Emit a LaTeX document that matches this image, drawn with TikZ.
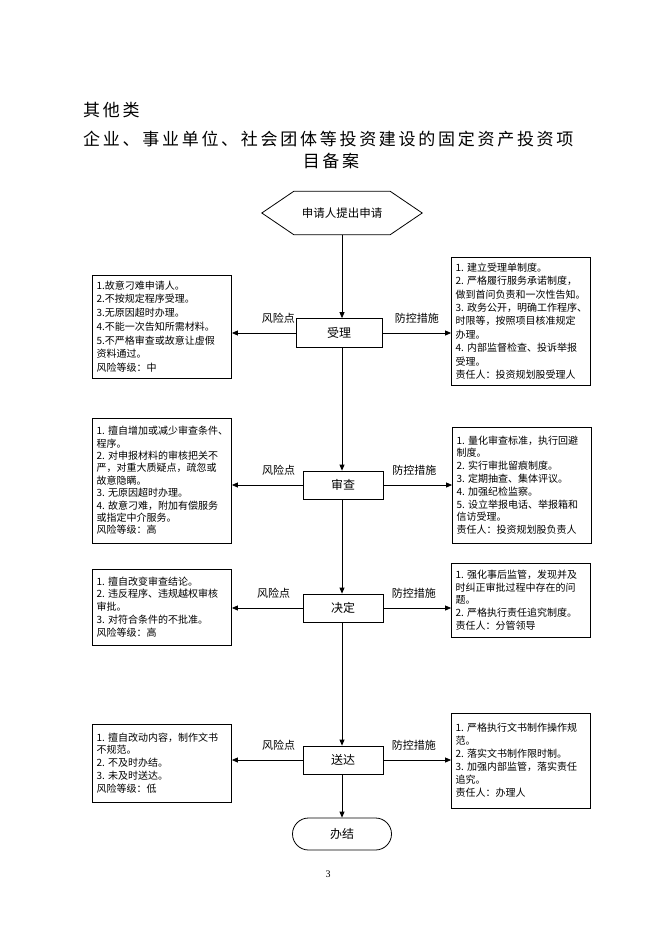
\documentclass[tikz,border=0pt]{standalone}
\usepackage{fontspec}
\setmainfont{Noto Sans CJK SC}
\newfontfamily\titlefont[LetterSpace=16]{Noto Sans CJK SC}
\newfontfamily\numfont{Liberation Serif}
\usetikzlibrary{arrows.meta}
\tikzset{
  proc/.style={draw, line width=0.8pt, minimum width=80pt, minimum height=28pt, inner sep=0pt, font=\fontsize{12}{14}\selectfont},
  info/.style={draw, line width=0.8pt, text width=131pt, inner xsep=4pt, inner ysep=0pt, align=left},
  lbl/.style={font=\fontsize{11}{13}\selectfont, inner sep=1pt},
  flow/.style={line width=0.8pt, -{Triangle[length=6pt,width=5pt]}},
  ttl/.style={font=\titlefont\fontsize{17}{20}\selectfont, inner sep=0pt},
}
\begin{document}
\begin{tikzpicture}[x=1pt,y=-1pt]
\fill[white] (0,0) rectangle (662,936);
\useasboundingbox (0,0) rectangle (662,936);

% titles
\node[ttl, anchor=west] (t1) at (83,110) {其他类};
\node[ttl, anchor=west] (t2) at (83,139) {企业、事业单位、社会团体等投资建设的固定资产投资项};
\node[ttl] (t3) at (331,161) {目备案};

% start hexagon
\node[minimum width=160pt, minimum height=43pt, inner sep=0pt, font=\fontsize{11.5}{13}\selectfont] (hex) at (342,213) {申请人提出申请};
\draw[line width=0.8pt] ([xshift=32pt]hex.north west) -- ([xshift=-32pt]hex.north east) -- (hex.east)
  -- ([xshift=-32pt]hex.south east) -- ([xshift=32pt]hex.south west) -- (hex.west) -- cycle;

% process boxes
\node[proc, minimum width=86pt, minimum height=29pt] (shouli) at (339,333) {受理};
\node[proc] (shencha) at (343,485) {审查};
\node[proc] (jueding) at (343,608) {决定};
\node[proc] (songda) at (343,760) {送达};
\node[draw, line width=0.8pt, minimum width=99pt, minimum height=32pt, rounded corners=16pt, font=\fontsize{12}{14}\selectfont] (banjie) at (342,834) {办结};

% risk boxes (left)
\node[info, minimum height=103pt, font=\fontsize{10}{13.7}\selectfont] (l1) at (162,326.5) {1.故意刁难申请人。\\2.不按规定程序受理。\\3.无原因超时办理。\\4.不能一次告知所需材料。\\5.不严格审查或故意让虚假\\资料通过。\\风险等级：中};
\node[info, minimum height=125pt, font=\fontsize{10}{12.4}\selectfont] (l2) at (162,480.5) {1.~擅自增加或减少审查条件、\\程序。\\2.~对申报材料的审核把关不\\严，对重大质疑点，疏忽或\\故意隐瞒。\\3.~无原因超时办理。\\4.~故意刁难，附加有偿服务\\或指定中介服务。\\风险等级：高};
\node[info, minimum height=76pt, font=\fontsize{10}{12.9}\selectfont] (l3) at (162,607) {1.~擅自改变审查结论。\\2.~违反程序、违规越权审核\\审批。\\3.~对符合条件的不批准。\\风险等级：高};
\node[info, minimum height=78pt, font=\fontsize{10}{12.9}\selectfont] (l4) at (162,763) {1.~擅自改动内容，制作文书\\不规范。\\2.~不及时办结。\\3.~未及时送达。\\风险等级：低};

% control boxes (right)
\node[info, minimum height=128pt, font=\fontsize{10}{13.4}\selectfont] (r1) at (521,321) {1.~建立受理单制度。\\2.~严格履行服务承诺制度，\\做到首问负责和一次性告知。\\3.~政务公开，明确工作程序、\\时限等，按照项目核准规定\\办理。\\4.~内部监督检查、投诉举报\\受理。\\责任人：投资规划股受理人};
\node[info, minimum height=116pt, font=\fontsize{10}{12.8}\selectfont] (r2) at (522,485) {1.~量化审查标准，执行回避\\制度。\\2.~实行审批留痕制度。\\3.~定期抽查、集体评议。\\4.~加强纪检监察。\\5.~设立举报电话、举报箱和\\信访受理。\\责任人：投资规划股负责人};
\node[info, minimum height=74pt, font=\fontsize{10}{12.7}\selectfont] (r3) at (521,600) {1.~强化事后监管，发现并及\\时纠正审批过程中存在的问\\题。\\2.~严格执行责任追究制度。\\责任人：分管领导};
\node[info, minimum height=95pt, font=\fontsize{10}{13}\selectfont] (r4) at (521,760.5) {1.~严格执行文书制作操作规\\范。\\2.~落实文书制作限时制。\\3.~加强内部监管，落实责任\\追究。\\责任人：办理人};

% main flow
\draw[flow] (hex.south) -- (hex.south |- shouli.north);
\draw[flow] (hex.south |- shouli.south) -- (hex.south |- shencha.north);
\draw[flow] (hex.south |- shencha.south) -- (hex.south |- jueding.north);
\draw[flow] (hex.south |- jueding.south) -- (hex.south |- songda.north);
\draw[flow] (hex.south |- songda.south) -- (hex.south |- banjie.north);

% side arrows
\draw[flow] (shouli.west) -- node[lbl, above=8pt, pos=0.27] {风险点} (shouli.west -| l1.east);
\draw[flow] (shouli.east) -- node[lbl, above=8pt, pos=0.5] {防控措施} (shouli.east -| r1.west);
\draw[flow] (shencha.west) -- node[lbl, above=8pt, pos=0.34] {风险点} (shencha.west -| l2.east);
\draw[flow] (shencha.east) -- node[lbl, above=8pt, pos=0.45] {防控措施} (shencha.east -| r2.west);
\draw[flow] (jueding.west) -- node[lbl, above=8pt, pos=0.41] {风险点} (jueding.west -| l3.east);
\draw[flow] (jueding.east) -- node[lbl, above=8pt, pos=0.45] {防控措施} (jueding.east -| r3.west);
\draw[flow] (songda.west) -- node[lbl, above=8pt, pos=0.34] {风险点} (songda.west -| l4.east);
\draw[flow] (songda.east) -- node[lbl, above=8pt, pos=0.45] {防控措施} (songda.east -| r4.west);

% page number
\node[font=\numfont\fontsize{10}{12}\selectfont, inner sep=0pt] (pg) at (328,874) {3};
\end{tikzpicture}
\end{document}
